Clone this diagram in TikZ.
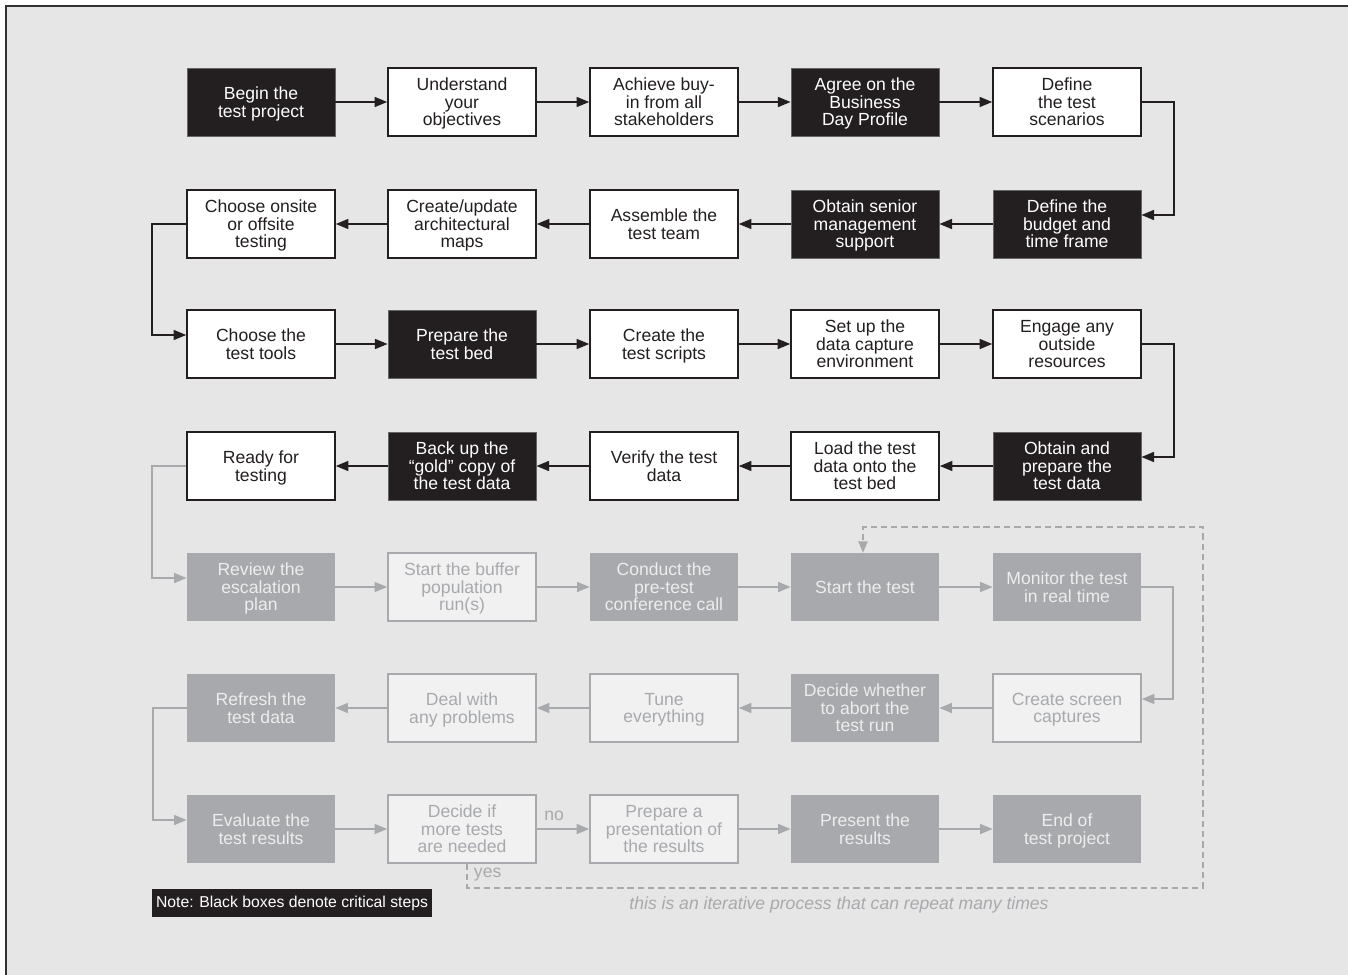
\documentclass[tikz,border=0pt]{standalone}
\usepackage{fontspec}
\setmainfont{Liberation Sans}
\usetikzlibrary{arrows.meta}

\definecolor{critfill}{HTML}{231F20}
\definecolor{laterfill}{HTML}{A7A9AC}
\definecolor{faintfill}{HTML}{F1F1F2}
\definecolor{latertext}{HTML}{EDEDED}
\definecolor{pagebg}{HTML}{E6E6E6}

\tikzset{
  stepbox/.style={minimum width=3.7cm, minimum height=1.7cm, align=center, inner sep=0pt,
    text depth=0pt, font=\fontsize{12.5}{12.4}\selectfont},
  critbox/.style={stepbox, fill=critfill, draw=black!60, line width=0.5pt, text=white},
  whitebox/.style={stepbox, fill=white, draw=critfill, line width=1pt, text=critfill},
  greybox/.style={stepbox, fill=laterfill, text=latertext},
  faintbox/.style={stepbox, fill=faintfill, draw=laterfill, line width=1pt, text=laterfill},
  flow/.style={-{Triangle[length=9pt,width=7pt]}, line width=1.4pt, critfill},
  flowg/.style={flow, laterfill},
  loopline/.style={-{Triangle[length=8pt,width=6.5pt]}, line width=1.2pt, laterfill,
    dash pattern=on 4.5pt off 2.8pt}
}

\begin{document}
\begin{tikzpicture}[x=0.025cm, y=-0.025cm]
\clip (0,0) rectangle (1348,974);
\useasboundingbox (0,0) rectangle (1348,974);
\fill[white] (0,0) rectangle (1348,974);
\filldraw[fill=pagebg, draw=black!80, line width=1pt] (6,6) rectangle (1370,1000);

% row 1
\node[critbox]  (begin)  at (261,102)  {Begin the\\test project};
\node[whitebox] (underst) at (462,102) {Understand\\your\\objectives};
\node[whitebox] (buyin)  at (664,102)  {Achieve buy-\\in from all\\stakeholders};
\node[critbox]  (agree)  at (865,102)  {Agree on the\\Business\\Day Profile};
\node[whitebox] (scen)   at (1067,102) {Define\\the test\\scenarios};

% row 2
\node[critbox]  (budget) at (1067,224) {Define the\\budget and\\time frame};
\node[critbox]  (senior) at (865,224)  {Obtain senior\\management\\support};
\node[whitebox] (team)   at (664,224)  {Assemble the\\test team};
\node[whitebox] (maps)   at (462,224)  {Create/update\\architectural\\maps};
\node[whitebox] (onsite) at (261,224)  {Choose onsite\\or offsite\\testing};

% row 3
\node[whitebox] (tools)   at (261,344)  {Choose the\\test tools};
\node[critbox]  (bed)     at (462,344)  {Prepare the\\test bed};
\node[whitebox] (scripts) at (664,344)  {Create the\\test scripts};
\node[whitebox] (capture) at (865,344)  {Set up the\\data capture\\environment};
\node[whitebox] (outside) at (1067,344) {Engage any\\outside\\resources};

% row 4
\node[critbox]  (prepdata) at (1067,466) {Obtain and\\prepare the\\test data};
\node[whitebox] (load)     at (865,466)  {Load the test\\data onto the\\test bed};
\node[whitebox] (verify)   at (664,466)  {Verify the test\\data};
\node[critbox]  (backup)   at (462,466)  {Back up the\\``gold'' copy of\\the test data};
\node[whitebox] (ready)    at (261,466)  {Ready for\\testing};

% row 5
\node[greybox]  (escal)   at (261,587)  {Review the\\escalation\\plan};
\node[faintbox] (buffer)  at (462,587)  {Start the buffer\\population\\run(s)};
\node[greybox]  (conf)    at (664,587)  {Conduct the\\pre-test\\conference call};
\node[greybox]  (start)   at (865,587)  {Start the test};
\node[greybox]  (monitor) at (1067,587) {Monitor the test\\in real time};

% row 6
\node[faintbox] (screens) at (1067,708) {Create screen\\captures};
\node[greybox]  (abort)   at (865,708)  {Decide whether\\to abort the\\test run};
\node[faintbox] (tune)    at (664,708)  {Tune\\everything};
\node[faintbox] (probs)   at (462,708)  {Deal with\\any problems};
\node[greybox]  (refresh) at (261,708)  {Refresh the\\test data};

% row 7
\node[greybox]  (evalres)   at (261,829)  {Evaluate the\\test results};
\node[faintbox] (moretests) at (462,829)  {Decide if\\more tests\\are needed};
\node[faintbox] (present)   at (664,829)  {Prepare a\\presentation of\\the results};
\node[greybox]  (results)   at (865,829)  {Present the\\results};
\node[greybox]  (endproj)   at (1067,829) {End of\\test project};

% critical path, black arrows
\draw[flow] (begin) -- (underst);
\draw[flow] (underst) -- (buyin);
\draw[flow] (buyin) -- (agree);
\draw[flow] (agree) -- (scen);
\draw[flow] (scen.east) -- ++(32,0) |- ([yshift=2.25mm]budget.east);
\draw[flow] (budget) -- (senior);
\draw[flow] (senior) -- (team);
\draw[flow] (team) -- (maps);
\draw[flow] (maps) -- (onsite);
\draw[flow] (onsite.west) -- ++(-34,0) |- ([yshift=2.25mm]tools.west);
\draw[flow] (tools) -- (bed);
\draw[flow] (bed) -- (scripts);
\draw[flow] (scripts) -- (capture);
\draw[flow] (capture) -- (outside);
\draw[flow] (outside.east) -- ++(32,0) |- ([yshift=2.25mm]prepdata.east);
\draw[flow] (prepdata) -- (load);
\draw[flow] (load) -- (verify);
\draw[flow] (verify) -- (backup);
\draw[flow] (backup) -- (ready);

% test run, grey arrows
\draw[flowg] (ready.west) -- ++(-34,0) |- ([yshift=2.25mm]escal.west);
\draw[flowg] (escal) -- (buffer);
\draw[flowg] (buffer) -- (conf);
\draw[flowg] (conf) -- (start);
\draw[flowg] (start) -- (monitor);
\draw[flowg] (monitor.east) -- ++(32,0) |- ([yshift=2.25mm]screens.east);
\draw[flowg] (screens) -- (abort);
\draw[flowg] (abort) -- (tune);
\draw[flowg] (tune) -- (probs);
\draw[flowg] (probs) -- (refresh);
\draw[flowg] (refresh.west) -- ++(-34,0) |- ([yshift=2.25mm]evalres.west);
\draw[flowg] (evalres) -- (moretests);
\draw[flowg] (moretests) -- node[above=2pt, xshift=-2.2mm, text=laterfill,
  font=\fontsize{12.5}{12}\selectfont] (nolbl) {no} (present);
\draw[flowg] (present) -- (results);
\draw[flowg] (results) -- (endproj);

% repeat loop
\coordinate (loopbot) at (1203,888);
\coordinate (looptop) at (1203,527);
\draw[loopline] ([xshift=1.25mm]moretests.south) |- (loopbot) -- (looptop) -| ([xshift=-0.5mm]start.north);
\node[anchor=west, text=laterfill, font=\fontsize{12.5}{12}\selectfont] (yeslbl) at (469,875) {yes};
\node[text=laterfill, font=\fontsize{12.5}{12}\itshape] (iterlbl) at (839,905)
  {this is an iterative process that can repeat many times};

% legend
\node[fill=critfill, text=white, minimum width=7cm, minimum height=0.7cm, inner sep=0pt,
  font=\fontsize{11.2}{11}\selectfont] (note) at (292,903) {Note: Black boxes denote critical steps};
\end{tikzpicture}
\end{document}
